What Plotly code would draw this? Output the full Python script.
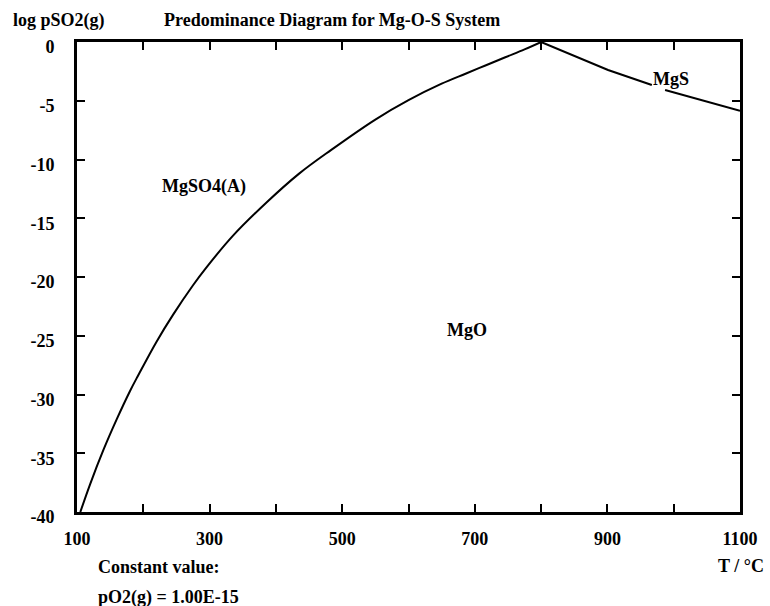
import plotly.graph_objects as go

# Boundary MgSO4(A) / MgO
t_so4 = [105, 120, 140, 160, 180, 192, 220, 245, 275, 295, 335, 385, 435, 483, 550, 600, 650, 686, 716, 746, 775, 800]
lp_so4 = [-40, -37.6, -34.7, -32.1, -29.7, -28.4, -25.5, -23.2, -20.7, -19.2, -16.5, -13.7, -11.2, -9.2,
          -6.6, -4.95, -3.55, -2.7, -2.0, -1.3, -0.63, 0]

# Boundary MgS / MgO (gap where label sits)
t_mgs = [800, 901, 967, None, 987, 1100]
lp_mgs = [0, -2.38, -3.66, None, -4.09, -5.85]

region_labels = ["MgSO4(A)", "MgO", "MgS"]
region_t = [292, 688, 996]
region_lp = [-12.3, -24.5, -3.15]

x_ticks = [100, 200, 300, 400, 500, 600, 700, 800, 900, 1000, 1100]
x_ticktext = ["100", "", "300", "", "500", "", "700", "", "900", "", "1100"]
y_ticks = [0, -5, -10, -15, -20, -25, -30, -35, -40]
y_ticktext = ["0", "-5", "-10", "-15", "-20", "-25", "-30", "-35", "-40"]

FONT = "Liberation Serif"
W, H = 770, 606
L, R, T, B = 77, 28, 42, 94
pw, ph = W - L - R, H - T - B


def px_x(px):
    return (px - L) / pw


def px_y(py):
    return (H - B - py) / ph


fig = go.Figure()
fig.add_trace(go.Scatter(x=t_so4, y=lp_so4, mode="lines",
                         line=dict(color="black", width=2, shape="spline", smoothing=1.0),
                         showlegend=False, hoverinfo="skip"))
fig.add_trace(go.Scatter(x=t_mgs, y=lp_mgs, mode="lines", line=dict(color="black", width=2),
                         showlegend=False, hoverinfo="skip"))

fnt = dict(family=FONT, size=18, color="black", weight="bold")

for lab, tx, ly in zip(region_labels, region_t, region_lp):
    fig.add_annotation(x=tx, y=ly, text=lab, showarrow=False, font=fnt, xanchor="center", yanchor="middle")

texts = [
    ("log pSO2(g)", 11, 20, "left"),
    ("Predominance Diagram for Mg-O-S System", 162, 20, "left"),
    ("Constant value:", 96, 567, "left"),
    ("pO2(g) = 1.00E-15", 96, 597, "left"),
    ("T / °C", 768, 566, "right"),
]
for txt, x, y, anc in texts:
    fig.add_annotation(x=px_x(x), y=px_y(y), xref="paper", yref="paper", text=txt, showarrow=False,
                       font=fnt, xanchor=anc, yanchor="middle")

fig.update_layout(
    width=W, height=H,
    margin=dict(l=L, r=R, t=T, b=B, pad=0),
    paper_bgcolor="white", plot_bgcolor="white",
    showlegend=False,
)
fig.update_xaxes(range=[100, 1100], tickvals=x_ticks, ticktext=x_ticktext, ticks="inside", ticklen=8,
                 tickwidth=1.5, tickcolor="black", showline=True, linewidth=3, linecolor="black",
                 mirror="ticks", showgrid=False, zeroline=False, tickfont=fnt, ticklabelstandoff=8)
fig.update_yaxes(range=[-40, 0], tickvals=y_ticks, ticktext=y_ticktext, ticks="inside", ticklen=8,
                 tickwidth=1.5, tickcolor="black", showline=True, linewidth=3, linecolor="black",
                 mirror="ticks", showgrid=False, zeroline=False, tickfont=fnt, ticklabelstandoff=16,
                 ticklabelshift=5)

fig.write_html("out.html")
